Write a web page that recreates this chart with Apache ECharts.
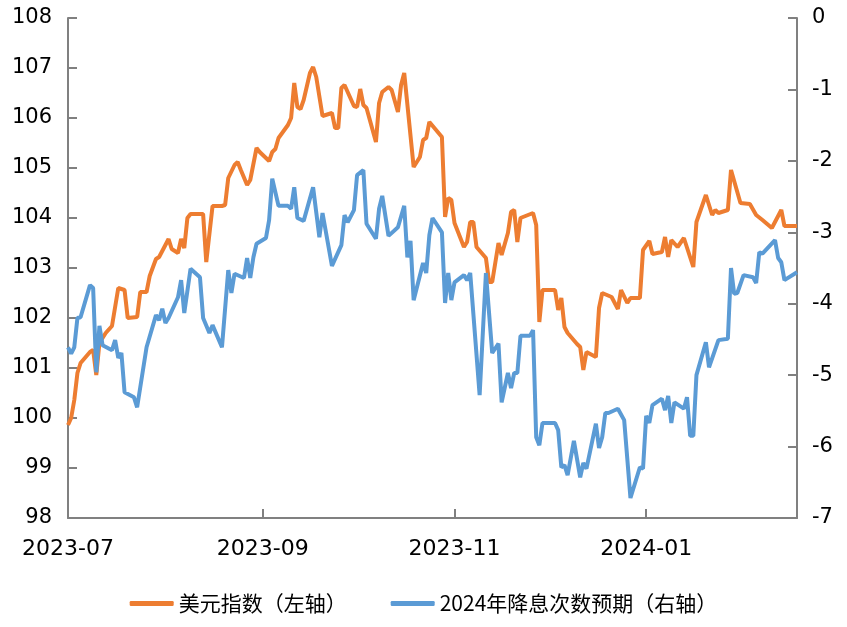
<!DOCTYPE html>
<html>
<head>
<meta charset="utf-8">
<script src="https://cdn.jsdelivr.net/npm/echarts@6/dist/echarts.min.js"></script>
<style>html,body{margin:0;padding:0;background:#fff}#c{width:847px;height:627px}</style>
</head>
<body>
<div id="c"></div>
<script>
const seriesNames = ['美元指数（左轴）', '2024年降息次数预期（右轴）'];
const xTickDates = ['2023-07-01', '2023-09-01', '2023-11-01', '2024-01-01'];
const xTickLabels = ['2023-07', '2023-09', '2023-11', '2024-01'];
const xStart = '2023-07-01';
const xEnd = '2024-02-18';

const usdDates = ['2023-07-01','2023-07-02','2023-07-03','2023-07-04','2023-07-05','2023-07-08','2023-07-09','2023-07-10','2023-07-11','2023-07-13','2023-07-15','2023-07-17','2023-07-19','2023-07-20','2023-07-23','2023-07-24','2023-07-26','2023-07-27','2023-07-29','2023-07-30',
'2023-08-02','2023-08-03','2023-08-05','2023-08-06','2023-08-07','2023-08-08','2023-08-09','2023-08-13','2023-08-14','2023-08-16','2023-08-19','2023-08-20','2023-08-21','2023-08-23','2023-08-24','2023-08-25','2023-08-27','2023-08-28','2023-08-30','2023-08-31',
'2023-09-03','2023-09-04','2023-09-05','2023-09-06','2023-09-09','2023-09-10','2023-09-11','2023-09-12','2023-09-13','2023-09-14','2023-09-16','2023-09-17','2023-09-18','2023-09-20','2023-09-23','2023-09-24','2023-09-25','2023-09-26','2023-09-27','2023-09-30',
'2023-10-01','2023-10-02','2023-10-03','2023-10-04','2023-10-07','2023-10-08','2023-10-09','2023-10-11','2023-10-12','2023-10-14','2023-10-15','2023-10-16','2023-10-19','2023-10-21','2023-10-22','2023-10-23','2023-10-24','2023-10-28','2023-10-29','2023-10-30','2023-10-31',
'2023-11-01','2023-11-04','2023-11-05','2023-11-06','2023-11-07','2023-11-08','2023-11-11','2023-11-12','2023-11-13','2023-11-15','2023-11-16','2023-11-18','2023-11-19','2023-11-20','2023-11-21','2023-11-22','2023-11-26','2023-11-27','2023-11-28','2023-11-29',
'2023-12-03','2023-12-04','2023-12-05','2023-12-06','2023-12-07','2023-12-10','2023-12-11','2023-12-12','2023-12-13','2023-12-16','2023-12-17','2023-12-18','2023-12-21','2023-12-23','2023-12-24','2023-12-26','2023-12-27','2023-12-30','2023-12-31',
'2024-01-02','2024-01-03','2024-01-06','2024-01-07','2024-01-08','2024-01-09','2024-01-11','2024-01-13','2024-01-16','2024-01-17','2024-01-20','2024-01-22','2024-01-23','2024-01-24','2024-01-27','2024-01-28','2024-01-31',
'2024-02-03','2024-02-05','2024-02-07','2024-02-10','2024-02-13','2024-02-14','2024-02-18'];
const usdValues = [99.86,100.00,100.36,100.90,101.10,101.32,101.36,100.86,101.50,101.70,101.84,102.60,102.56,102.00,102.02,102.52,102.52,102.84,103.18,103.22,
103.58,103.38,103.30,103.58,103.40,104.00,104.08,104.08,103.12,104.24,104.24,104.26,104.80,105.06,105.12,104.96,104.66,104.76,105.40,105.32,
105.14,105.32,105.38,105.60,105.86,106.00,106.70,106.22,106.18,106.36,106.90,107.02,106.82,106.04,106.10,105.80,105.80,106.60,106.66,106.24,
106.22,106.58,106.26,106.20,105.52,106.30,106.52,106.62,106.56,106.12,106.66,106.90,105.02,105.22,105.56,105.60,105.92,105.62,104.02,104.40,104.36,
103.90,103.42,103.52,103.92,103.92,103.42,103.20,102.72,102.72,103.50,103.26,103.70,104.12,104.16,103.52,104.00,104.10,103.86,101.92,102.56,
102.56,102.16,102.40,101.82,101.70,101.48,101.42,100.96,101.32,101.22,102.20,102.50,102.42,102.18,102.56,102.30,102.40,102.40,103.36,
103.54,103.28,103.32,103.62,103.22,103.56,103.42,103.60,103.02,103.92,104.46,104.06,104.16,104.10,104.16,104.96,104.30,
104.28,104.06,103.96,103.80,104.16,103.84,103.84];

const cutDates = ['2023-07-01','2023-07-02','2023-07-03','2023-07-04','2023-07-05','2023-07-08','2023-07-09','2023-07-10','2023-07-11','2023-07-12','2023-07-15','2023-07-16','2023-07-17','2023-07-18','2023-07-19','2023-07-22','2023-07-23','2023-07-26','2023-07-29','2023-07-30','2023-07-31',
'2023-08-01','2023-08-02','2023-08-05','2023-08-06','2023-08-07','2023-08-09','2023-08-12','2023-08-13','2023-08-15','2023-08-16','2023-08-19','2023-08-21','2023-08-22','2023-08-23','2023-08-26','2023-08-27','2023-08-28','2023-08-29','2023-08-30',
'2023-09-02','2023-09-03','2023-09-04','2023-09-06','2023-09-09','2023-09-10','2023-09-11','2023-09-12','2023-09-14','2023-09-17','2023-09-19','2023-09-20','2023-09-23','2023-09-26','2023-09-27','2023-09-28','2023-09-30',
'2023-10-01','2023-10-03','2023-10-04','2023-10-07','2023-10-08','2023-10-09','2023-10-11','2023-10-14','2023-10-16','2023-10-17','2023-10-18','2023-10-19','2023-10-22','2023-10-23','2023-10-24','2023-10-25','2023-10-28','2023-10-29','2023-10-30','2023-10-31',
'2023-11-01','2023-11-04','2023-11-05','2023-11-06','2023-11-09','2023-11-11','2023-11-13','2023-11-15','2023-11-16','2023-11-18','2023-11-19','2023-11-20','2023-11-21','2023-11-22','2023-11-25','2023-11-26','2023-11-27','2023-11-28','2023-11-29',
'2023-12-03','2023-12-04','2023-12-05','2023-12-06','2023-12-07','2023-12-09','2023-12-11','2023-12-12','2023-12-13','2023-12-16','2023-12-17','2023-12-18','2023-12-19','2023-12-20','2023-12-23','2023-12-25','2023-12-27','2023-12-30','2023-12-31',
'2024-01-01','2024-01-02','2024-01-03','2024-01-06','2024-01-07','2024-01-08','2024-01-09','2024-01-10','2024-01-13','2024-01-14','2024-01-15','2024-01-16','2024-01-17','2024-01-20','2024-01-21','2024-01-24','2024-01-27','2024-01-28','2024-01-29','2024-01-30',
'2024-02-01','2024-02-04','2024-02-05','2024-02-06','2024-02-07','2024-02-11','2024-02-12','2024-02-13','2024-02-14','2024-02-18'];
const cutValues = [-4.61,-4.70,-4.61,-4.20,-4.19,-3.74,-3.78,-4.96,-4.31,-4.58,-4.65,-4.51,-4.76,-4.69,-5.24,-5.31,-5.45,-4.61,-4.16,-4.23,-4.07,
-4.27,-4.20,-3.91,-3.67,-4.13,-3.51,-3.63,-4.20,-4.41,-4.30,-4.61,-3.53,-3.85,-3.58,-3.64,-3.36,-3.64,-3.35,-3.16,
-3.08,-2.83,-2.25,-2.63,-2.63,-2.67,-2.37,-2.80,-2.84,-2.37,-3.07,-2.73,-3.47,-3.18,-2.76,-2.86,-2.69,
-2.20,-2.13,-2.88,-3.09,-2.67,-2.49,-3.05,-2.93,-2.63,-3.35,-3.12,-3.95,-3.43,-3.57,-3.04,-2.80,-3.00,-3.99,-3.57,-3.95,
-3.70,-3.60,-3.67,-3.57,-5.28,-3.57,-4.69,-4.56,-5.38,-4.97,-5.18,-4.97,-4.97,-4.45,-4.45,-4.37,-5.87,-5.98,-5.67,
-5.67,-5.77,-6.29,-6.26,-6.40,-5.92,-6.43,-6.23,-6.31,-5.68,-6.02,-5.87,-5.53,-5.53,-5.47,-5.63,-6.72,-6.29,-6.31,
-5.57,-5.67,-5.42,-5.33,-5.49,-5.29,-5.67,-5.38,-5.47,-5.31,-5.85,-5.85,-5.00,-4.54,-4.89,-4.51,-4.49,-3.50,-3.86,-3.85,
-3.60,-3.63,-3.71,-3.28,-3.30,-3.11,-3.36,-3.42,-3.67,-3.56];

const DAY = 86400000;
const base = Date.parse(xStart);
const off = s => (Date.parse(s) - base) / DAY;
const pairs = (ds, vs) => ds.map((d, i) => [off(d), vs[i]]);
const tickOffsets = xTickDates.map(off);

const axisGray = '#808080';
const numFont = '"DejaVu Sans", sans-serif';

const chart = echarts.init(document.getElementById('c'));
chart.setOption({
  animation: false,
  textStyle: { fontFamily: numFont },
  grid: { left: 68, right: 50, top: 18, bottom: 109, containLabel: false },
  legend: {
    data: seriesNames,
    bottom: 8,
    left: 'center',
    itemWidth: 44,
    itemHeight: 5,
    itemGap: 44,
    icon: 'roundRect',
    textStyle: { fontSize: 21, color: '#000', fontFamily: '"Noto Sans CJK SC", sans-serif' }
  },
  xAxis: {
    type: 'value',
    min: 0,
    max: off(xEnd),
    splitLine: { show: false },
    axisLine: { onZero: false, lineStyle: { color: axisGray, width: 2 } },
    axisTick: { show: true, inside: true, length: 9, customValues: tickOffsets, lineStyle: { color: axisGray, width: 2 } },
    axisLabel: {
      customValues: tickOffsets,
      fontSize: 22, color: '#000', margin: 20, fontFamily: numFont,
      formatter: v => { const i = tickOffsets.indexOf(v); return i >= 0 ? xTickLabels[i] : ''; }
    }
  },
  yAxis: [
    {
      type: 'value', min: 98, max: 108, interval: 1, position: 'left',
      splitLine: { show: false },
      axisLine: { show: true, onZero: false, lineStyle: { color: axisGray, width: 2 } },
      axisTick: { show: true, inside: true, length: 9, lineStyle: { color: axisGray, width: 2 } },
      axisLabel: { fontSize: 21, color: '#000', margin: 16, fontFamily: numFont }
    },
    {
      type: 'value', min: -7, max: 0, interval: 1, position: 'right',
      splitLine: { show: false },
      axisLine: { show: true, onZero: false, lineStyle: { color: axisGray, width: 2 } },
      axisTick: { show: true, inside: true, length: 9, lineStyle: { color: axisGray, width: 2 } },
      axisLabel: { fontSize: 21, color: '#000', margin: 15, fontFamily: numFont }
    }
  ],
  series: [
    {
      name: seriesNames[0], type: 'line', yAxisIndex: 0,
      data: pairs(usdDates, usdValues),
      showSymbol: false, symbol: 'none',
      lineStyle: { color: '#ED7D31', width: 4 }, itemStyle: { color: '#ED7D31' }
    },
    {
      name: seriesNames[1], type: 'line', yAxisIndex: 1,
      data: pairs(cutDates, cutValues),
      showSymbol: false, symbol: 'none',
      lineStyle: { color: '#5B9BD5', width: 4 }, itemStyle: { color: '#5B9BD5' }
    }
  ]
});
</script>
</body>
</html>
